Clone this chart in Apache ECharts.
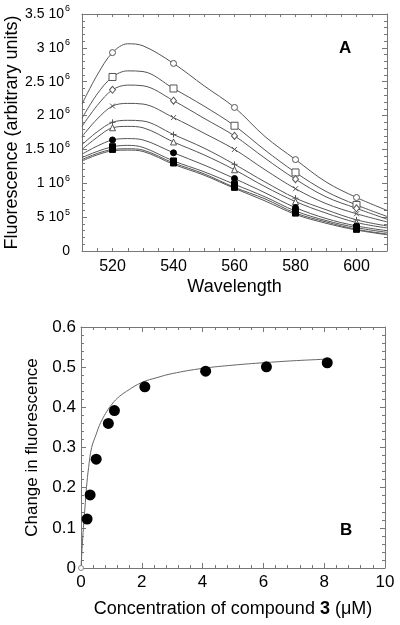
<!DOCTYPE html>
<html>
<head>
<meta charset="utf-8">
<script src="https://cdn.jsdelivr.net/npm/echarts@6/dist/echarts.min.js"></script>
<style>
html,body{margin:0;padding:0;background:#fff;}
#chart{width:400px;height:625px;}
</style>
</head>
<body>
<div id="chart"></div>
<script>
// ---------- Panel A data ----------
const wavelengths = [510, 515, 520, 525, 530, 540, 550, 560, 570, 580, 590, 600, 610];
const markerWavelengths = [520, 540, 560, 580, 600];
const seriesCircle   = [2.17e6, 2.60e6, 2.93e6, 3.06e6, 3.03e6, 2.77e6, 2.44e6, 2.12e6, 1.69e6, 1.35e6, 1.02e6, 0.79e6, 0.60e6];
const seriesSquare   = [1.96e6, 2.32e6, 2.57e6, 2.66e6, 2.65e6, 2.40e6, 2.14e6, 1.85e6, 1.49e6, 1.16e6, 0.88e6, 0.68e6, 0.51e6];
const seriesDiamond  = [1.84e6, 2.15e6, 2.38e6, 2.45e6, 2.44e6, 2.22e6, 1.96e6, 1.70e6, 1.37e6, 1.06e6, 0.80e6, 0.63e6, 0.47e6];
const seriesCross    = [1.69e6, 1.95e6, 2.14e6, 2.18e6, 2.17e6, 1.97e6, 1.74e6, 1.50e6, 1.20e6, 0.92e6, 0.70e6, 0.55e6, 0.43e6];
const seriesPlus     = [1.57e6, 1.76e6, 1.90e6, 1.93e6, 1.92e6, 1.72e6, 1.52e6, 1.28e6, 1.02e6, 0.78e6, 0.61e6, 0.46e6, 0.37e6];
const seriesTriangle = [1.50e6, 1.68e6, 1.82e6, 1.84e6, 1.82e6, 1.61e6, 1.42e6, 1.20e6, 0.95e6, 0.73e6, 0.56e6, 0.42e6, 0.34e6];
const seriesDot      = [1.43e6, 1.55e6, 1.64e6, 1.66e6, 1.64e6, 1.45e6, 1.27e6, 1.07e6, 0.86e6, 0.64e6, 0.48e6, 0.37e6, 0.30e6];
const seriesBlock1   = [1.38e6, 1.47e6, 1.54e6, 1.56e6, 1.53e6, 1.33e6, 1.17e6, 0.985e6, 0.80e6, 0.59e6, 0.45e6, 0.345e6, 0.275e6];
const seriesBlock2   = [1.35e6, 1.44e6, 1.50e6, 1.51e6, 1.49e6, 1.30e6, 1.14e6, 0.94e6, 0.77e6, 0.56e6, 0.43e6, 0.32e6, 0.25e6];
const seriesBlock3   = [1.33e6, 1.42e6, 1.48e6, 1.49e6, 1.47e6, 1.28e6, 1.12e6, 0.925e6, 0.74e6, 0.54e6, 0.41e6, 0.31e6, 0.24e6];
const xTicksA = [520, 540, 560, 580, 600];

// ---------- Panel B data ----------
const concentration = [0.2, 0.3, 0.5, 0.9, 1.1, 2.1, 4.1, 6.1, 8.1];
const changeFluor   = [0.122, 0.182, 0.271, 0.360, 0.392, 0.451, 0.490, 0.501, 0.511];
const fitX = [0, 0.04, 0.08, 0.13, 0.18, 0.25, 0.35, 0.5, 0.6, 0.7, 0.85, 1.0, 1.2, 1.5, 2, 2.5, 3, 4, 5, 6, 7, 8.1];
const fitY = [0, 0.055, 0.10, 0.15, 0.20, 0.25, 0.30, 0.333, 0.354, 0.370, 0.390, 0.406, 0.423, 0.440, 0.462, 0.474, 0.484, 0.497, 0.505, 0.511, 0.516, 0.520];
const originPoint = [0, 0];

const FONT = '"Liberation Sans", Arial, sans-serif';
const AXIS_COLOR = '#777';
const LINE_COLOR = '#555';

const chart = echarts.init(document.getElementById('chart'), null, {renderer: 'canvas'});

function sciLabel(v) {
  if (v === 0) return '0';
  const e = Math.floor(Math.log10(v) + 1e-9);
  const m = Math.round(v / Math.pow(10, e) * 10) / 10;
  return '{m|' + m + ' 10}{e|' + e + '}';
}

const crossPath = 'path://M0,0L10,10M10,0L0,10';
const plusPath = 'path://M5,0L5,10M0,5L10,5';

const specs = [
  {data: seriesCircle,   symbol: 'circle',   size: 6, fill: '#fff', stroke: LINE_COLOR},
  {data: seriesSquare,   symbol: 'rect',     size: 7, fill: '#fff', stroke: LINE_COLOR},
  {data: seriesDiamond,  symbol: 'diamond',  size: [6, 7], fill: '#fff', stroke: LINE_COLOR},
  {data: seriesCross,    symbol: crossPath,  size: 5, fill: 'rgba(0,0,0,0)', stroke: LINE_COLOR},
  {data: seriesPlus,     symbol: plusPath,   size: 6, fill: 'rgba(0,0,0,0)', stroke: LINE_COLOR},
  {data: seriesTriangle, symbol: 'triangle', size: 6, fill: '#fff', stroke: LINE_COLOR},
  {data: seriesDot,      symbol: 'circle',   size: 6, fill: '#000', stroke: '#000'},
  {data: seriesBlock1,   symbol: 'rect',     size: 6, fill: '#000', stroke: '#000'},
  {data: seriesBlock2,   symbol: 'rect',     size: 6, fill: '#000', stroke: '#000'},
  {data: seriesBlock3,   symbol: 'none',     size: 6, fill: '#000', stroke: '#000'}
];

const series = [];
specs.forEach(sp => {
  series.push({
    type: 'line', xAxisIndex: 0, yAxisIndex: 0,
    data: wavelengths.map((w, i) => [w, sp.data[i]]),
    smooth: 0.35, showSymbol: false, symbol: 'none',
    lineStyle: {color: LINE_COLOR, width: 1},
    silent: true, z: 2
  });
  if (sp.symbol !== 'none') {
    series.push({
      type: 'scatter', xAxisIndex: 0, yAxisIndex: 0,
      data: markerWavelengths.map(w => [w, sp.data[wavelengths.indexOf(w)]]),
      symbol: sp.symbol, symbolSize: sp.size,
      itemStyle: {color: sp.fill, borderColor: sp.stroke, borderWidth: 1, opacity: 1},
      silent: true, z: 3
    });
  }
});

series.push({
  type: 'line', xAxisIndex: 2, yAxisIndex: 2,
  data: fitX.map((x, i) => [x, fitY[i]]),
  smooth: 0.4, showSymbol: false, symbol: 'none',
  lineStyle: {color: '#666', width: 1}, silent: true, z: 2
});
series.push({
  type: 'scatter', xAxisIndex: 2, yAxisIndex: 2,
  data: concentration.map((x, i) => [x, changeFluor[i]]),
  symbol: 'circle', symbolSize: 11,
  itemStyle: {color: '#000', opacity: 1}, silent: true, z: 3
});
series.push({
  type: 'scatter', xAxisIndex: 2, yAxisIndex: 2,
  data: [originPoint],
  symbol: 'circle', symbolSize: 5,
  itemStyle: {color: '#fff', borderColor: '#888', borderWidth: 1, opacity: 1}, silent: true, z: 4
});

const tickStyle = {inside: true, length: 5, lineStyle: {color: AXIS_COLOR, width: 1}};
const minorStyle = {show: true, length: 3, lineStyle: {color: AXIS_COLOR, width: 1}};
const lineStyleAxis = {show: true, onZero: false, lineStyle: {color: AXIS_COLOR, width: 1}};

function mirrorAxis(base, pos) {
  return Object.assign({}, base, {
    position: pos, name: '', axisLabel: {show: false}
  });
}

const xA = {
  type: 'value', gridIndex: 0, min: 510, max: 610, interval: 5,
  position: 'bottom',
  axisLine: lineStyleAxis, axisTick: Object.assign({}, tickStyle, {length: 3}), minorTick: {show: false},
  splitLine: {show: false},
  axisLabel: {
    fontFamily: FONT, fontSize: 16, color: '#000', margin: 8,
    customValues: xTicksA
  },
  name: 'Wavelength', nameLocation: 'middle', nameGap: 27,
  nameTextStyle: {fontFamily: FONT, fontSize: 18, color: '#000'}
};
const yA = {
  type: 'value', gridIndex: 0, min: 0, max: 3.5e6, interval: 5e5,
  position: 'left',
  axisLine: lineStyleAxis, axisTick: tickStyle,
  minorTick: Object.assign({}, minorStyle, {splitNumber: 5}),
  splitLine: {show: false},
  axisLabel: {
    fontFamily: FONT, fontSize: 14, color: '#000', margin: 12,
    formatter: sciLabel,
    rich: {
      m: {fontFamily: FONT, fontSize: 14, color: '#000'},
      e: {fontFamily: FONT, fontSize: 9, color: '#000', padding: [0, 0, 10, 1]}
    }
  },
  name: 'Fluorescence (arbitrary units)', nameLocation: 'middle', nameGap: 61,
  nameMoveOverlap: false,
  nameTextStyle: {fontFamily: FONT, fontSize: 18, color: '#000'}
};
const xB = {
  type: 'value', gridIndex: 1, min: 0, max: 10, interval: 2,
  position: 'bottom',
  axisLine: lineStyleAxis, axisTick: tickStyle,
  minorTick: Object.assign({}, minorStyle, {splitNumber: 5}),
  splitLine: {show: false},
  axisLabel: {fontFamily: FONT, fontSize: 17, color: '#000', margin: 6},
  name: '{n|Concentration of compound }{b|3}{n| (μM)}', nameLocation: 'middle', nameGap: 32,
  nameTextStyle: {
    fontFamily: FONT, fontSize: 18, color: '#000',
    rich: {
      n: {fontFamily: FONT, fontSize: 18, color: '#000'},
      b: {fontFamily: FONT, fontSize: 18, color: '#000', fontWeight: 'bold'}
    }
  }
};
const yB = {
  type: 'value', gridIndex: 1, min: 0, max: 0.6, interval: 0.1,
  position: 'left',
  axisLine: lineStyleAxis, axisTick: tickStyle,
  minorTick: Object.assign({}, minorStyle, {splitNumber: 5}),
  splitLine: {show: false},
  axisLabel: {fontFamily: FONT, fontSize: 17, color: '#000', margin: 5},
  name: 'Change in fluorescence', nameLocation: 'middle', nameGap: 40,
  nameTextStyle: {fontFamily: FONT, fontSize: 17, color: '#000'}
};

const option = {
  backgroundColor: '#fff',
  animation: false,
  grid: [
    {left: 82, top: 14, width: 305, height: 237, containLabel: false, outerBoundsMode: 'none'},
    {left: 81, top: 327, width: 304, height: 241, containLabel: false, outerBoundsMode: 'none'}
  ],
  xAxis: [xA, mirrorAxis(xA, 'top'), xB, mirrorAxis(xB, 'top')],
  yAxis: [yA, mirrorAxis(yA, 'right'), yB, mirrorAxis(yB, 'right')],
  series: series,
  graphic: [
    {type: 'text', left: 339, top: 40, style: {text: 'A', fontFamily: FONT, fontSize: 17, fontWeight: 'bold', fill: '#000'}},
    {type: 'text', left: 340, top: 522, style: {text: 'B', fontFamily: FONT, fontSize: 17, fontWeight: 'bold', fill: '#000'}}
  ]
};
chart.setOption(option);
</script>
</body>
</html>
